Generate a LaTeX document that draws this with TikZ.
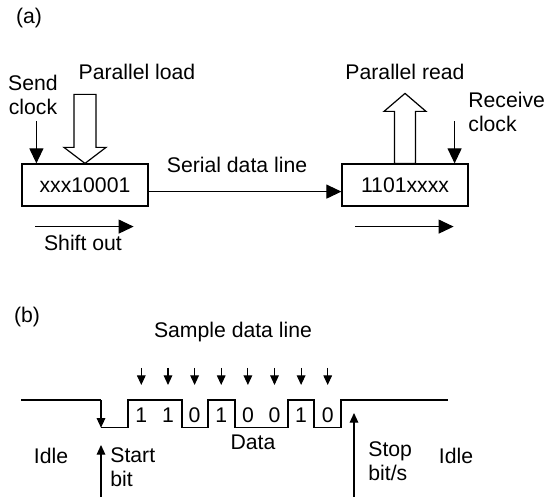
\documentclass[tikz,border=0pt]{standalone}
\usepackage{fontspec}
\setmainfont{Liberation Sans}
\usetikzlibrary{arrows.meta,positioning,calc}

\begin{document}
\begin{tikzpicture}[x=0.5pt,y=-0.5pt,
    lbl/.style={font=\fontsize{10.6}{12}\selectfont,inner sep=1pt},
    reg/.style={rectangle,draw,line width=0.6pt,minimum width=63pt,minimum height=21pt,font=\fontsize{10.6}{12}\selectfont},
    arr/.style={-{Triangle[length=7.5pt,width=7pt]},line width=0.55pt},
    sarr/.style={-{Triangle[length=4.8pt,width=4.3pt]},line width=0.55pt},
    hollow/.style={draw,fill=white,line width=0.6pt,line join=miter},
    wave/.style={line width=0.6pt},
]
\useasboundingbox (0,0) rectangle (546,497);

% (a) - shift registers
\node[lbl] (tagA) at (29,18) {(a)};
\node[reg] (sendreg) at (85,185) {xxx10001};
\node[reg] (recvreg) at (405,185) {1101xxxx};

% Sender side
\node[lbl,align=center] (sendclk) at (33,95) {Send\\clock};
\node[lbl] (pload) at (137,72) {Parallel load};
\node[lbl] (shiftout) at (83,243) {Shift out};
\draw[arr] ([xshift=7.5pt,yshift=21pt]sendreg.north west) -- ([xshift=7.5pt]sendreg.north west);
\draw[hollow] (sendreg.north) -- ++(-10.5pt,8pt) -- ++(5pt,0) -- ++(0,26.5pt) -- ++(11pt,0) -- ++(0,-26.5pt) -- ++(5pt,0) -- cycle;
\draw[arr] ([xshift=7pt,yshift=-10pt]sendreg.south west) -- ([xshift=-7.5pt,yshift=-10pt]sendreg.south east);

% Serial line
\node[lbl] (serial) at (237,165) {Serial data line};
\draw[arr] ([yshift=-3.3pt]sendreg.east) -- ([yshift=-3.3pt]recvreg.west);

% Receiver side
\node[lbl] (pread) at (405,72) {Parallel read};
\node[lbl,align=left,anchor=west] (recvclk) at (466,111.5) {Receive\\clock};
\draw[hollow] (recvreg.north) -- ++(5.25pt,0) -- ++(0,26pt) -- ++(5.25pt,0) -- ++(-10.5pt,9pt) -- ++(-10.5pt,-9pt) -- ++(5.25pt,0) -- ++(0,-26pt) -- cycle;
\draw[arr] ([xshift=-7pt,yshift=21pt]recvreg.north east) -- ([xshift=-7pt]recvreg.north east);
\draw[arr] ([xshift=6.85pt,yshift=-10pt]recvreg.south west) -- ([xshift=-7.5pt,yshift=-10pt]recvreg.south east);

% (b) - frame on the line
\node[lbl] (tagB) at (27,317) {(b)};
\node[lbl] (sample) at (233,332) {Sample data line};

% Waveform
\draw[wave] (21,400) -- (101,400);
\draw[sarr] (101,400) -- (101,427.7);
\draw[wave] (101,427.7) -- (128,427.7) -- (128,400) -- (182,400) -- (182,427.7) -- (208,427.7) -- (208,400)
    -- (235,400) -- (235,427.7) -- (288,427.7) -- (288,400) -- (314,400) -- (314,427.7) -- (341,427.7)
    -- (341,400) -- (448,400);

% Data bits
\node[lbl] (b1) at (141.3,415) {1};
\node[lbl] (b2) at (168,415) {1};
\node[lbl] (b3) at (194.6,415) {0};
\node[lbl] (b4) at (221.2,415) {1};
\node[lbl] (b5) at (247.9,415) {0};
\node[lbl] (b6) at (274.5,415) {0};
\node[lbl] (b7) at (301.1,415) {1};
\node[lbl] (b8) at (327.7,415) {0};
\draw[sarr] ([yshift=23.6pt]b1.center) -- ([yshift=15pt]b1.center);
\draw[sarr] ([yshift=23.6pt]b2.center) -- ([yshift=15pt]b2.center);
\draw[sarr] ([yshift=23.6pt]b3.center) -- ([yshift=15pt]b3.center);
\draw[sarr] ([yshift=23.6pt]b4.center) -- ([yshift=15pt]b4.center);
\draw[sarr] ([yshift=23.6pt]b5.center) -- ([yshift=15pt]b5.center);
\draw[sarr] ([yshift=23.6pt]b6.center) -- ([yshift=15pt]b6.center);
\draw[sarr] ([yshift=23.6pt]b7.center) -- ([yshift=15pt]b7.center);
\draw[sarr] ([yshift=23.6pt]b8.center) -- ([yshift=15pt]b8.center);

% Labels under the line
\node[lbl] (idleL) at (51,456) {Idle};
\node[lbl] (data) at (253,442) {Data};
\node[lbl,align=left,anchor=west] (startlbl) at (108,467) {Start\\bit};
\node[lbl,align=left,anchor=west] (stoplbl) at (366,461) {Stop\\bit/s};
\node[lbl] (idleR) at (456,456) {Idle};
\coordinate (startbot) at (101,497);
\coordinate (starttip) at (101,445);
\coordinate (stopbot) at (354,497);
\coordinate (stoptip) at (354,413);
\draw[sarr] (startbot) -- (starttip);
\draw[sarr] (stopbot) -- (stoptip);
\end{tikzpicture}
\end{document}
